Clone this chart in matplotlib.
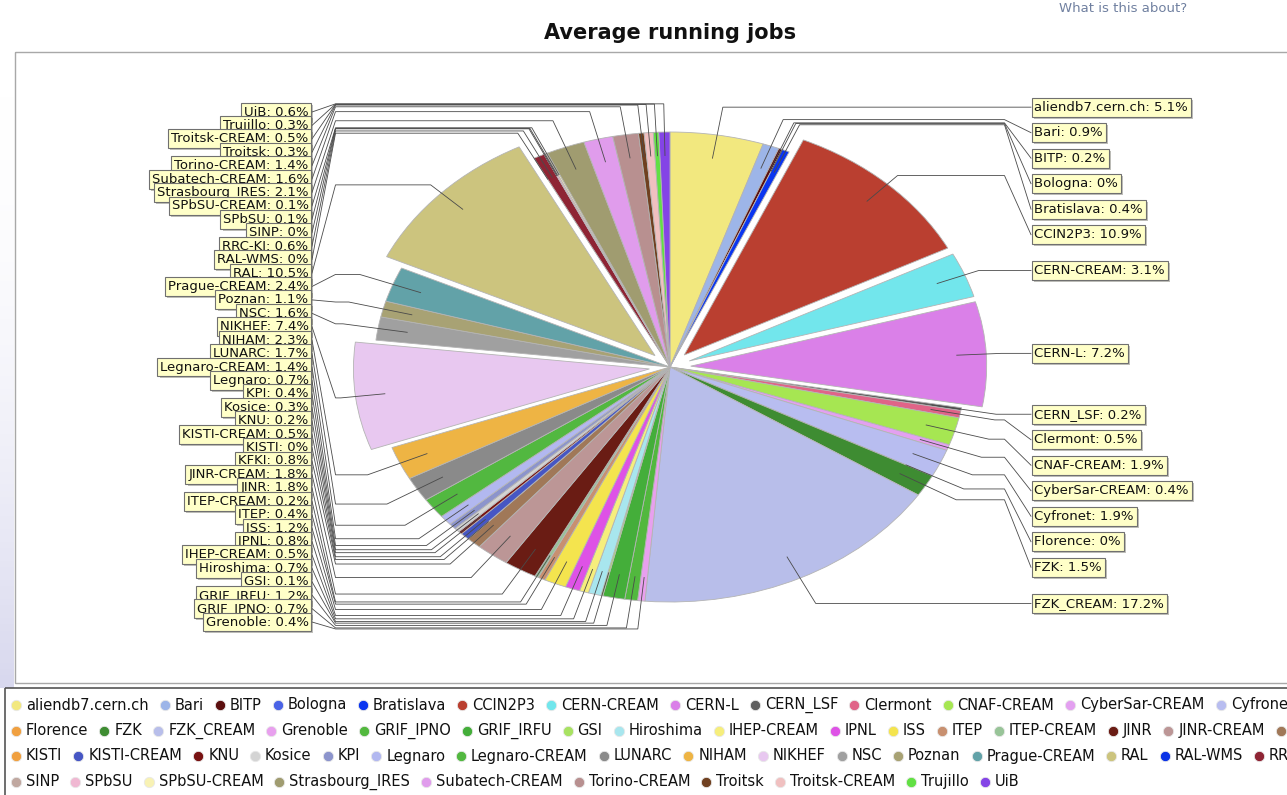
import numpy as np
import matplotlib
matplotlib.use('Agg')
import matplotlib.pyplot as plt
from matplotlib import patheffects
from matplotlib.patches import Rectangle
from matplotlib.colors import LinearSegmentedColormap

W, H = 1287, 795

sites = ['aliendb7.cern.ch', 'Bari', 'BITP', 'Bologna', 'Bratislava', 'CCIN2P3',
         'CERN-CREAM', 'CERN-L', 'CERN_LSF', 'Clermont', 'CNAF-CREAM', 'CyberSar-CREAM',
         'Cyfronet', 'Florence', 'FZK', 'FZK_CREAM', 'Grenoble', 'GRIF_IPNO', 'GRIF_IRFU',
         'GSI', 'Hiroshima', 'IHEP-CREAM', 'IPNL', 'ISS', 'ITEP', 'ITEP-CREAM', 'JINR',
         'JINR-CREAM', 'KFKI', 'KISTI', 'KISTI-CREAM', 'KNU', 'Kosice', 'KPI', 'Legnaro',
         'Legnaro-CREAM', 'LUNARC', 'NIHAM', 'NIKHEF', 'NSC', 'Poznan', 'Prague-CREAM',
         'RAL', 'RAL-WMS', 'RRC-KI', 'SINP', 'SPbSU', 'SPbSU-CREAM', 'Strasbourg_IRES',
         'Subatech-CREAM', 'Torino-CREAM', 'Troitsk', 'Troitsk-CREAM', 'Trujillo', 'UiB']

share = [5.1, 0.9, 0.2, 0, 0.4, 10.9,
         3.1, 7.2, 0.2, 0.5, 1.9, 0.4,
         1.9, 0, 1.5, 17.2, 0.4, 0.7, 1.2,
         0.1, 0.7, 0.5, 0.8, 1.2, 0.4, 0.2, 1.8,
         1.8, 0.8, 0, 0.5, 0.2, 0.3, 0.4, 0.7,
         1.4, 1.7, 2.3, 7.4, 1.6, 1.1, 2.4,
         10.5, 0, 0.6, 0, 0.1, 0.1, 2.1,
         1.6, 1.4, 0.3, 0.5, 0.3, 0.6]

colors = ['#F2E87F', '#9DB5E8', '#5C0F0F', '#4A63E6', '#0A35F0', '#BA3F30',
          '#72E6EC', '#DA80E8', '#5E5E5E', '#E06488', '#A6E652', '#E3A0F0',
          '#B8BDF0', '#F0A040', '#3E8C32', '#B8BEEA', '#E8A0EE', '#52B83E', '#44AE3A',
          '#A8E262', '#A8E6EE', '#F6EE7C', '#DE52E6', '#F4E44E', '#C89070', '#98C498', '#6A1C14',
          '#BC9696', '#A07858', '#F0A040', '#4656C4', '#781212', '#D4D4D4', '#8C94CC', '#B2B8F0',
          '#52B840', '#8A8A8A', '#EEB444', '#E8C8F0', '#A0A0A0', '#A8A274', '#62A2A8',
          '#CCC47E', '#0A32E6', '#8E2434', '#C0A8A0', '#F0B8D2', '#F8F2B4', '#A09C70',
          '#E09CEC', '#B89090', '#704020', '#F0C0C0', '#62E044', '#8444E6']

exploded = ['CCIN2P3', 'CERN-CREAM', 'CERN-L', 'NIKHEF', 'RAL']
legend_breaks = ['Florence', 'KISTI', 'SINP']

# pie geometry in pixels (elliptical pie like the java chart)
cx, cy, rx, ry = 670, 367, 296, 235
label_font = ['Liberation Sans Narrow', 'DejaVu Sans']

fig = plt.figure(figsize=(W / 100, H / 100), dpi=100)
fig.patch.set_facecolor('white')

# background / frame layer in pixel coords
bg = fig.add_axes([0, 0, 1, 1])
grad = np.linspace(0, 1, 100).reshape(-1, 1) ** 2
cmap = LinearSegmentedColormap.from_list('side', ['#ffffff', '#d8d8ee'])
bg.imshow(grad, extent=(0, 14, 688, 52), cmap=cmap, aspect='auto')
bg.set_xlim(0, W)
bg.set_ylim(H, 0)
bg.axis('off')
bg.add_patch(Rectangle((15, 52), W, 631, fill=False, ec='#a8a8a8', lw=1))
bg.add_patch(Rectangle((5, 688), W, 130, fill=False, ec='#555555', lw=1.2))

bg.text(670, 33, 'Average running jobs', ha='center', va='center',
        fontsize=15, fontweight='bold', color='#111111')
bg.text(1123, 9, 'What is this about?', ha='center', va='center',
        fontsize=9.5, color='#7080a0')

# pie layer: data units = pie radius
ax = fig.add_axes([0, 0, 1, 1])
ax.patch.set_visible(False)
expl = [0.07 if s in exploded else 0 for s in sites]
wedges, _ = ax.pie(share, colors=colors, startangle=90, counterclock=False,
                   explode=expl, radius=1,
                   wedgeprops=dict(ec='#b4b4b4', lw=0.6))
ax.set_aspect('auto')
ax.set_xlim((0 - cx) / rx, (W - cx) / rx)
ax.set_ylim((cy - H) / ry, cy / ry)
ax.axis('off')

total = sum(share)
cum = np.cumsum([0] + share[:-1])
mid = np.radians(90 - 360 * (cum + np.array(share) / 2) / total)
ux, uy = np.cos(mid), np.sin(mid)

right = [i for i in range(len(sites)) if ux[i] >= 0 and cum[i] < total / 2]
left = [i for i in range(len(sites)) if i not in right]

# right labels: start at elbow height and push down to avoid overlap
label_y = {}
step_r = 25.5 / ry
prev = None
for i in sorted(right, key=lambda k: -1.12 * uy[k]):
    want = 1.12 * uy[i]
    y = want if prev is None else min(want, prev - step_r)
    label_y[i] = y
    prev = y

# left labels: stacked evenly top to bottom
top, bot = (cy - 112) / ry, (cy - 622) / ry
order_left = sorted(left, key=lambda k: -1.12 * uy[k])
for y, i in zip(np.linspace(top, bot, len(order_left)), order_left):
    label_y[i] = y

stem = 1.13
edge_r = (1031 - cx) / rx
edge_l = (312 - cx) / rx
pad = 3.5 / rx


def draw_label(i, z):
    e = expl[i]
    ax_, ay_ = (0.9 + e) * ux[i], (0.9 + e) * uy[i]
    bx, by = 1.12 * ux[i], 1.12 * uy[i]
    ly = label_y[i]
    if i in right:
        xs = [ax_, bx, stem, edge_r]
        tx, ha = edge_r + pad, 'left'
    else:
        xs = [ax_, bx, -stem, edge_l]
        tx, ha = edge_l - pad, 'right'
    ax.plot(xs, [ay_, by, by, ly], color='#4a4a4a', lw=0.6, zorder=5,
            solid_joinstyle='miter')
    txt = '%s: %s%%' % (sites[i], ('%g' % share[i]))
    t = ax.text(tx, ly, txt, ha=ha, va='center', fontsize=9.5, family=label_font,
                color='#111111', zorder=z,
                bbox=dict(boxstyle='square,pad=0.22', fc='#FFFFC8', ec='#707070', lw=0.8))
    t.get_bbox_patch().set_path_effects([
        patheffects.SimplePatchShadow(offset=(1.5, -1.5), alpha=0.35),
        patheffects.Normal()])


for n, i in enumerate(order_left):
    draw_label(i, 10 + n)
for i in right:
    draw_label(i, 10)

# legend, flowing left to right (runs past the right edge like the original)
fig.canvas.draw()
renderer = fig.canvas.get_renderer()
x, y = 16, 705
for name, col in zip(sites, colors):
    if name in legend_breaks:
        x, y = 16, y + 25.5
    bg.scatter([x], [y], s=55, color=col, lw=0.6, edgecolors='#e8e8e8', zorder=3)
    t = bg.text(x + 10, y, name, va='center', ha='left', fontsize=10.5, color='#111111')
    w = t.get_window_extent(renderer).width
    x += 10 + w + 16

fig.savefig('out.png', dpi=100)
